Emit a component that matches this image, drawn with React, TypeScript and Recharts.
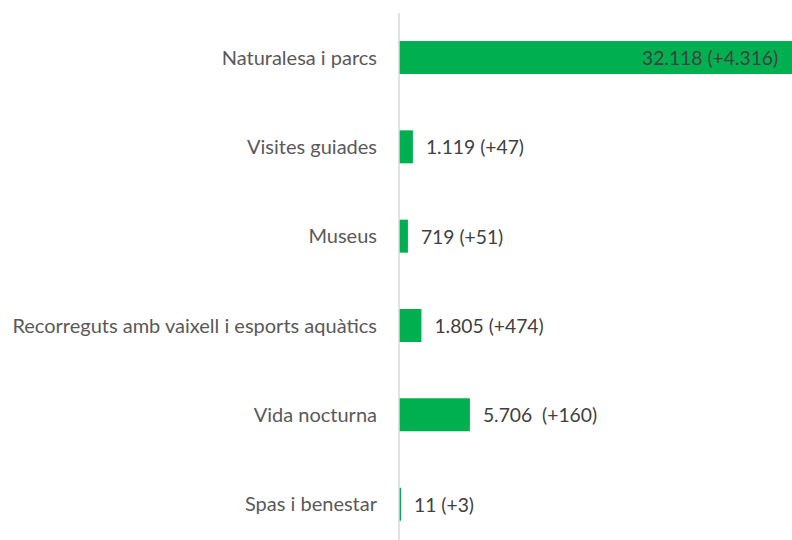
import { BarChart, Bar, XAxis, YAxis, LabelList } from "recharts";

const categories = [
  "Naturalesa i parcs",
  "Visites guiades",
  "Museus",
  "Recorreguts amb vaixell i esports aquàtics",
  "Vida nocturna",
  "Spas i benestar",
];
const values = [32118, 1119, 719, 1805, 5706, 11];
const valueLabels = [
  "32.118 (+4.316)",
  "1.119 (+47)",
  "719 (+51)",
  "1.805 (+474)",
  "5.706  (+160)",
  "11 (+3)",
];

const data = categories.map((name, i) => ({ name, value: values[i], label: valueLabels[i] }));

const FONT = "Lato, 'Open Sans', sans-serif";

const ValueLabel = (props: any) => {
  const { x, y, width, height, index } = props;
  const inside = index === 0;
  return (
    <text
      x={inside ? x + width - 20 : x + width + 13}
      y={y + height / 2}
      textAnchor={inside ? "end" : "start"}
      dominantBaseline="central"
      fill="#404040"
      fontSize={19.3}
      fontFamily={FONT}
      style={{ whiteSpace: "pre" }}
    >
      {valueLabels[index]}
    </text>
  );
};

export default function App() {
  return (
    <div style={{ position: "absolute", left: 0, top: 0, width: 792, height: 540, overflow: "hidden", background: "#fff" }}>
      <BarChart
        width={834}
        height={549}
        data={data}
        layout="vertical"
        margin={{ top: 13, right: 0, bottom: 0, left: 0 }}
      >
        <XAxis type="number" domain={[0, 35000]} hide />
        <YAxis
          type="category"
          dataKey="name"
          width={399}
          axisLine={{ stroke: "#d9d9d9", strokeWidth: 1.5 }}
          tickLine={false}
          tickSize={0}
          tickMargin={22}
          tick={{ fill: "#595959", fontSize: 20, fontFamily: FONT }}
          interval={0}
        />
        <Bar dataKey="value" fill="#00b050" barSize={33} minPointSize={2} isAnimationActive={false}>
          <LabelList dataKey="label" content={<ValueLabel />} />
        </Bar>
      </BarChart>
    </div>
  );
}
